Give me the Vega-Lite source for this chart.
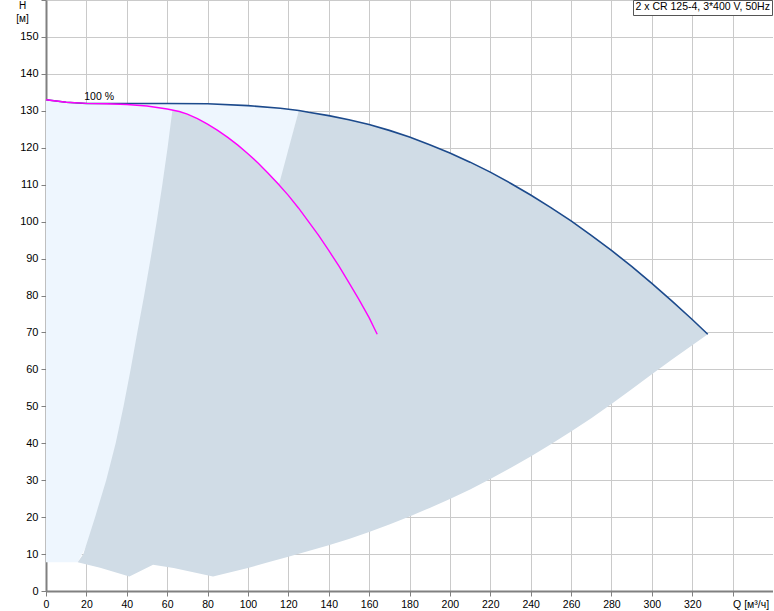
{
  "$schema": "https://vega.github.io/schema/vega-lite/v6.json",
  "autosize": {"type": "none"},
  "padding": {"left": 46, "top": 0, "right": 0, "bottom": 20},
  "width": 727,
  "height": 591,
  "background": "white",
  "config": {
    "view": {"stroke": null},
    "font": "Liberation Sans",
    "axis": {
      "gridColor": "#cacaca",
      "gridWidth": 1,
      "domainColor": "#808080",
      "domainWidth": 2,
      "tickColor": "#808080",
      "tickSize": 5,
      "labelColor": "#000000",
      "labelFont": "Liberation Sans",
      "labelFontSize": 11,
      "zindex": 1
    }
  },
  "datasets": {
    "light": [
      {"q": 0, "h": 7.8, "i": 0},
      {"q": 0, "h": 133, "i": 1},
      {"q": 10, "h": 132.3, "i": 2},
      {"q": 20, "h": 132, "i": 3},
      {"q": 40, "h": 132, "i": 4},
      {"q": 60, "h": 132, "i": 5},
      {"q": 80, "h": 131.9, "i": 6},
      {"q": 100, "h": 131.4, "i": 7},
      {"q": 116, "h": 130.7, "i": 8},
      {"q": 125.2, "h": 130.1, "i": 9},
      {"q": 116, "h": 110.3, "i": 10},
      {"q": 15.7, "h": 7.8, "i": 11}
    ],
    "dark": [
      {"q": 15.7, "h": 7.8, "i": 0},
      {"q": 18.5, "h": 10, "i": 1},
      {"q": 24.3, "h": 20, "i": 2},
      {"q": 29.8, "h": 30, "i": 3},
      {"q": 34.5, "h": 40, "i": 4},
      {"q": 38.4, "h": 50, "i": 5},
      {"q": 41.9, "h": 60, "i": 6},
      {"q": 45.2, "h": 70, "i": 7},
      {"q": 48.6, "h": 80, "i": 8},
      {"q": 51.8, "h": 90, "i": 9},
      {"q": 54.8, "h": 100, "i": 10},
      {"q": 57.6, "h": 110, "i": 11},
      {"q": 60.2, "h": 120, "i": 12},
      {"q": 62.6, "h": 130.2, "i": 13},
      {"q": 66, "h": 129.8, "i": 14},
      {"q": 70, "h": 129.1, "i": 15},
      {"q": 75, "h": 127.9, "i": 16},
      {"q": 80, "h": 126.4, "i": 17},
      {"q": 85, "h": 124.7, "i": 18},
      {"q": 90, "h": 122.8, "i": 19},
      {"q": 95, "h": 120.7, "i": 20},
      {"q": 100, "h": 118.4, "i": 21},
      {"q": 105, "h": 115.9, "i": 22},
      {"q": 110, "h": 113.1, "i": 23},
      {"q": 115.5, "h": 110.3, "i": 24},
      {"q": 125.2, "h": 130.1, "i": 25},
      {"q": 130, "h": 129.6, "i": 26},
      {"q": 140, "h": 128.7, "i": 27},
      {"q": 150, "h": 127.6, "i": 28},
      {"q": 160, "h": 126.3, "i": 29},
      {"q": 170, "h": 124.7, "i": 30},
      {"q": 180, "h": 122.9, "i": 31},
      {"q": 190, "h": 120.8, "i": 32},
      {"q": 200, "h": 118.6, "i": 33},
      {"q": 210, "h": 116.1, "i": 34},
      {"q": 220, "h": 113.4, "i": 35},
      {"q": 230, "h": 110.4, "i": 36},
      {"q": 240, "h": 107.2, "i": 37},
      {"q": 250, "h": 103.8, "i": 38},
      {"q": 260, "h": 100.2, "i": 39},
      {"q": 270, "h": 96.3, "i": 40},
      {"q": 280, "h": 92.2, "i": 41},
      {"q": 290, "h": 87.9, "i": 42},
      {"q": 300, "h": 83.3, "i": 43},
      {"q": 310, "h": 78.5, "i": 44},
      {"q": 320, "h": 73.5, "i": 45},
      {"q": 327.7, "h": 69.5, "i": 46},
      {"q": 320, "h": 66.5, "i": 47},
      {"q": 310, "h": 62.7, "i": 48},
      {"q": 300, "h": 58.7, "i": 49},
      {"q": 290, "h": 54.6, "i": 50},
      {"q": 280, "h": 50.6, "i": 51},
      {"q": 270, "h": 46.8, "i": 52},
      {"q": 260, "h": 43.2, "i": 53},
      {"q": 250, "h": 39.7, "i": 54},
      {"q": 240, "h": 36.4, "i": 55},
      {"q": 230, "h": 33.3, "i": 56},
      {"q": 220, "h": 30.3, "i": 57},
      {"q": 210, "h": 27.5, "i": 58},
      {"q": 200, "h": 24.9, "i": 59},
      {"q": 190, "h": 22.5, "i": 60},
      {"q": 180, "h": 20.2, "i": 61},
      {"q": 170, "h": 18.0, "i": 62},
      {"q": 160, "h": 16.0, "i": 63},
      {"q": 150, "h": 14.1, "i": 64},
      {"q": 140, "h": 12.4, "i": 65},
      {"q": 130, "h": 10.8, "i": 66},
      {"q": 120, "h": 9.3, "i": 67},
      {"q": 110, "h": 7.8, "i": 68},
      {"q": 100, "h": 6.2, "i": 69},
      {"q": 82.7, "h": 3.9, "i": 70},
      {"q": 63.2, "h": 6.2, "i": 71},
      {"q": 53, "h": 7.1, "i": 72},
      {"q": 41.3, "h": 3.9, "i": 73},
      {"q": 26.8, "h": 6.3, "i": 74}
    ],
    "top": [
      {"q": 0, "h": 133, "name": "2 x CR 125-4, 3*400 V, 50Hz"},
      {"q": 10, "h": 132.3, "name": "2 x CR 125-4, 3*400 V, 50Hz"},
      {"q": 20, "h": 132, "name": "2 x CR 125-4, 3*400 V, 50Hz"},
      {"q": 40, "h": 132, "name": "2 x CR 125-4, 3*400 V, 50Hz"},
      {"q": 60, "h": 132, "name": "2 x CR 125-4, 3*400 V, 50Hz"},
      {"q": 80, "h": 131.9, "name": "2 x CR 125-4, 3*400 V, 50Hz"},
      {"q": 100, "h": 131.4, "name": "2 x CR 125-4, 3*400 V, 50Hz"},
      {"q": 116, "h": 130.7, "name": "2 x CR 125-4, 3*400 V, 50Hz"},
      {"q": 125.2, "h": 130.1, "name": "2 x CR 125-4, 3*400 V, 50Hz"},
      {"q": 130, "h": 129.6, "name": "2 x CR 125-4, 3*400 V, 50Hz"},
      {"q": 140, "h": 128.7, "name": "2 x CR 125-4, 3*400 V, 50Hz"},
      {"q": 150, "h": 127.6, "name": "2 x CR 125-4, 3*400 V, 50Hz"},
      {"q": 160, "h": 126.3, "name": "2 x CR 125-4, 3*400 V, 50Hz"},
      {"q": 170, "h": 124.7, "name": "2 x CR 125-4, 3*400 V, 50Hz"},
      {"q": 180, "h": 122.9, "name": "2 x CR 125-4, 3*400 V, 50Hz"},
      {"q": 190, "h": 120.8, "name": "2 x CR 125-4, 3*400 V, 50Hz"},
      {"q": 200, "h": 118.6, "name": "2 x CR 125-4, 3*400 V, 50Hz"},
      {"q": 210, "h": 116.1, "name": "2 x CR 125-4, 3*400 V, 50Hz"},
      {"q": 220, "h": 113.4, "name": "2 x CR 125-4, 3*400 V, 50Hz"},
      {"q": 230, "h": 110.4, "name": "2 x CR 125-4, 3*400 V, 50Hz"},
      {"q": 240, "h": 107.2, "name": "2 x CR 125-4, 3*400 V, 50Hz"},
      {"q": 250, "h": 103.8, "name": "2 x CR 125-4, 3*400 V, 50Hz"},
      {"q": 260, "h": 100.2, "name": "2 x CR 125-4, 3*400 V, 50Hz"},
      {"q": 270, "h": 96.3, "name": "2 x CR 125-4, 3*400 V, 50Hz"},
      {"q": 280, "h": 92.2, "name": "2 x CR 125-4, 3*400 V, 50Hz"},
      {"q": 290, "h": 87.9, "name": "2 x CR 125-4, 3*400 V, 50Hz"},
      {"q": 300, "h": 83.3, "name": "2 x CR 125-4, 3*400 V, 50Hz"},
      {"q": 310, "h": 78.5, "name": "2 x CR 125-4, 3*400 V, 50Hz"},
      {"q": 320, "h": 73.5, "name": "2 x CR 125-4, 3*400 V, 50Hz"},
      {"q": 327.7, "h": 69.5, "name": "2 x CR 125-4, 3*400 V, 50Hz"}
    ],
    "pink": [
      {"q": 0, "h": 133},
      {"q": 10, "h": 132.3},
      {"q": 20, "h": 132},
      {"q": 30, "h": 131.9},
      {"q": 40, "h": 131.7},
      {"q": 50, "h": 131.3},
      {"q": 55, "h": 130.9},
      {"q": 60, "h": 130.5},
      {"q": 66, "h": 129.8},
      {"q": 70, "h": 129.1},
      {"q": 75, "h": 127.9},
      {"q": 80, "h": 126.4},
      {"q": 85, "h": 124.7},
      {"q": 90, "h": 122.8},
      {"q": 95, "h": 120.7},
      {"q": 100, "h": 118.4},
      {"q": 105, "h": 115.9},
      {"q": 110, "h": 113.1},
      {"q": 115, "h": 110.2},
      {"q": 120, "h": 107.1},
      {"q": 125, "h": 103.7},
      {"q": 130, "h": 100.0},
      {"q": 135, "h": 96.3},
      {"q": 140, "h": 92.2},
      {"q": 145, "h": 88.0},
      {"q": 150, "h": 83.5},
      {"q": 155, "h": 78.9},
      {"q": 160, "h": 74.0},
      {"q": 164, "h": 69.5}
    ],
    "labels": [
      {"q": 26.3, "h": 133.8, "t": "100 %"}
    ]
  },
  "encoding": {
    "x": {
      "field": "q", "type": "quantitative",
      "scale": {"domain": [0, 360], "nice": false, "zero": false},
      "axis": {
        "title": null,
        "values": [0, 20, 40, 60, 80, 100, 120, 140, 160, 180, 200, 220, 240, 260, 280, 300, 320, 340, 360],
        "labelExpr": "datum.value == 340 ? 'Q [м³/ч]' : (datum.value == 360 ? '' : datum.label)",
        "labelAlign": {"condition": {"test": "datum.value == 340", "value": "left"}, "value": "center"},
        "labelFontSize": 10.5,
        "labelPadding": 3,
        "labelFlush": false,
        "labelOverlap": false
      }
    },
    "y": {
      "field": "h", "type": "quantitative",
      "scale": {"domain": [0, 160], "nice": false, "zero": false},
      "axis": {
        "title": ["H", "[м]"],
        "titleAngle": 0,
        "titleX": -24,
        "titleY": 0,
        "titleAlign": "center",
        "titleBaseline": "top",
        "titleFontWeight": "normal",
        "titleFontSize": 10,
        "titleLineHeight": 13,
        "titleColor": "#000000",
        "values": [0, 10, 20, 30, 40, 50, 60, 70, 80, 90, 100, 110, 120, 130, 140, 150, 160],
        "labelExpr": "datum.value == 160 ? '' : datum.label",
        "labelPadding": 3,
        "labelFlush": false,
        "labelOverlap": false
      }
    }
  },
  "layer": [
    {
      "data": {"name": "light"},
      "mark": {"type": "line", "fill": "#eef6fe", "strokeWidth": 0, "stroke": null, "interpolate": "linear"},
      "encoding": {"order": {"field": "i", "type": "quantitative"}}
    },
    {
      "data": {"name": "dark"},
      "mark": {"type": "line", "fill": "#d0dce6", "strokeWidth": 0, "stroke": null, "interpolate": "linear"},
      "encoding": {"order": {"field": "i", "type": "quantitative"}}
    },
    {
      "data": {"name": "top"},
      "mark": {"type": "line", "strokeWidth": 1.6, "interpolate": "linear"},
      "encoding": {
        "color": {
          "field": "name", "type": "nominal",
          "scale": {"range": ["#1c4a8c"]},
          "legend": {
            "title": null,
            "orient": "none",
            "legendX": 587,
            "legendY": 0,
            "symbolOpacity": 0,
            "symbolSize": 0,
            "symbolStrokeWidth": 0,
            "labelOffset": -10,
            "labelFontSize": 10.5,
            "labelFont": "Liberation Sans",
            "labelColor": "#000000",
            "padding": 2,
            "strokeColor": "#555555",
            "fillColor": "#ffffff",
            "labelLimit": 300
          }
        }
      }
    },
    {
      "data": {"name": "pink"},
      "mark": {"type": "line", "color": "#ff00ff", "strokeWidth": 1.4, "interpolate": "linear"}
    },
    {
      "data": {"name": "labels"},
      "mark": {"type": "text", "fontSize": 10.5, "align": "center", "baseline": "middle", "color": "#000000"},
      "encoding": {"text": {"field": "t", "type": "nominal"}}
    }
  ]
}
